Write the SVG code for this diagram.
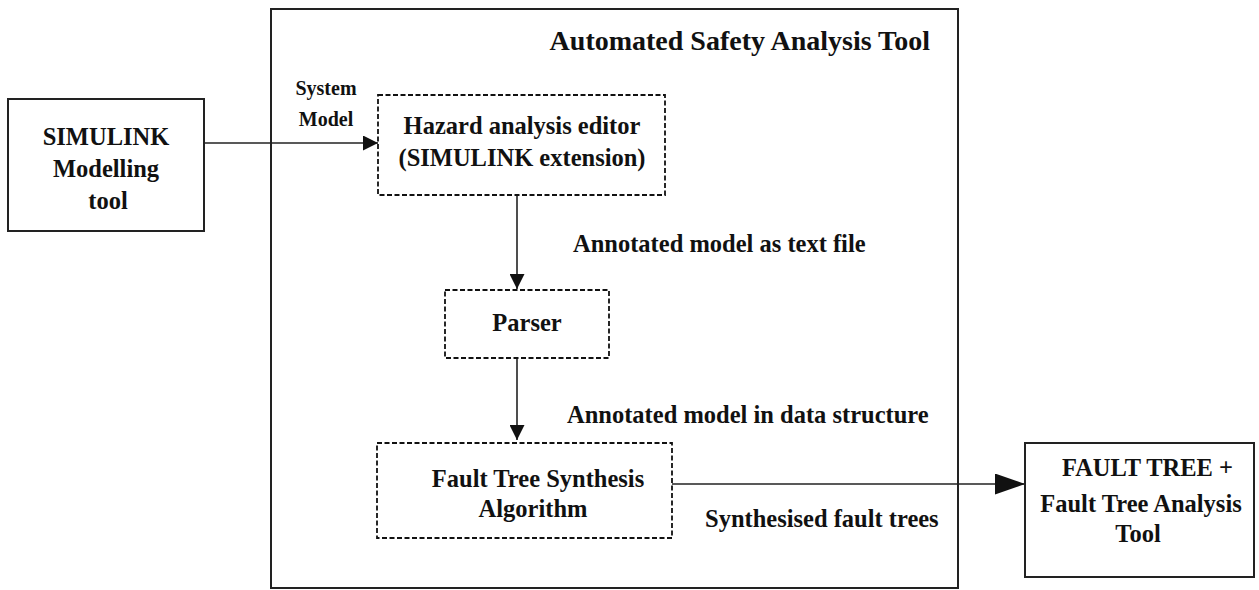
<svg xmlns="http://www.w3.org/2000/svg" width="1259" height="590" viewBox="0 0 1259 590">
<style>
  text { font-family: "Liberation Serif", "Times New Roman", serif; font-weight: bold; fill: #111; }
  .lbl { font-size: 24.5px; }
  .c { text-anchor: middle; }
  .solid { fill: #fff; stroke: #222; stroke-width: 2; }
  .dash { fill: #fff; stroke: #111; stroke-width: 1.8; stroke-dasharray: 5 2.5; }
  .conn { fill: none; stroke: #222; stroke-width: 1.6; }
</style>
<defs>
  <marker id="arr" viewBox="0 0 10 10" refX="10" refY="5" markerWidth="15" markerHeight="15" markerUnits="userSpaceOnUse" orient="auto">
    <path d="M0,0 L10,5 L0,10 z" fill="#111"/>
  </marker>
  <marker id="arrBig" viewBox="0 0 30 21" refX="30" refY="10.5" markerWidth="30" markerHeight="21" markerUnits="userSpaceOnUse" orient="auto">
    <path d="M0,0 L30,10.5 L0,21 z" fill="#111"/>
  </marker>
</defs>
<rect width="1259" height="590" fill="#fff"/>

<g id="frame">
  <rect x="271" y="9" width="687" height="579" fill="none" stroke="#222" stroke-width="2"/>
  <text x="930" y="50" text-anchor="end" font-size="28">Automated Safety Analysis Tool</text>
</g>

<g id="connectors">
  <line class="conn" x1="204" y1="143" x2="378" y2="143" marker-end="url(#arr)"/>
  <line class="conn" x1="517" y1="195" x2="517" y2="289" stroke="#666" marker-end="url(#arr)"/>
  <line class="conn" x1="517" y1="358" x2="517" y2="440" marker-end="url(#arr)"/>
  <line class="conn" x1="672" y1="484" x2="1025" y2="484" stroke="#555" marker-end="url(#arrBig)"/>
  <text x="326" y="95" class="c" font-size="20">System</text>
  <text x="326" y="126" class="c" font-size="20">Model</text>
  <text x="573" y="252" class="lbl">Annotated model as text file</text>
  <text x="567" y="423" class="lbl">Annotated model in data structure</text>
  <text x="705" y="527" class="lbl">Synthesised fault trees</text>
</g>

<g id="simulink">
  <rect class="solid" x="8" y="99" width="196" height="132"/>
  <text x="106" y="145" class="lbl c">SIMULINK</text>
  <text x="106" y="177" class="lbl c">Modelling</text>
  <text x="108" y="209" class="lbl c">tool</text>
</g>

<g id="hazard">
  <rect class="dash" x="378" y="95" width="287" height="100"/>
  <text x="522" y="134" class="lbl c">Hazard analysis editor</text>
  <text x="522" y="166" class="lbl c">(SIMULINK extension)</text>
</g>

<g id="parser">
  <rect class="dash" x="445" y="290" width="164" height="68"/>
  <text x="527" y="331" class="lbl c">Parser</text>
</g>

<g id="fts">
  <rect class="dash" x="377" y="443" width="295" height="95"/>
  <text x="538" y="487" class="lbl c">Fault Tree Synthesis</text>
  <text x="533" y="517" class="lbl c">Algorithm</text>
</g>

<g id="faulttree">
  <rect class="solid" x="1025" y="443" width="229" height="134"/>
  <text x="1062" y="476" class="lbl">FAULT TREE +</text>
  <text x="1141" y="512" class="lbl c">Fault Tree Analysis</text>
  <text x="1138" y="542" class="lbl c">Tool</text>
</g>
</svg>
